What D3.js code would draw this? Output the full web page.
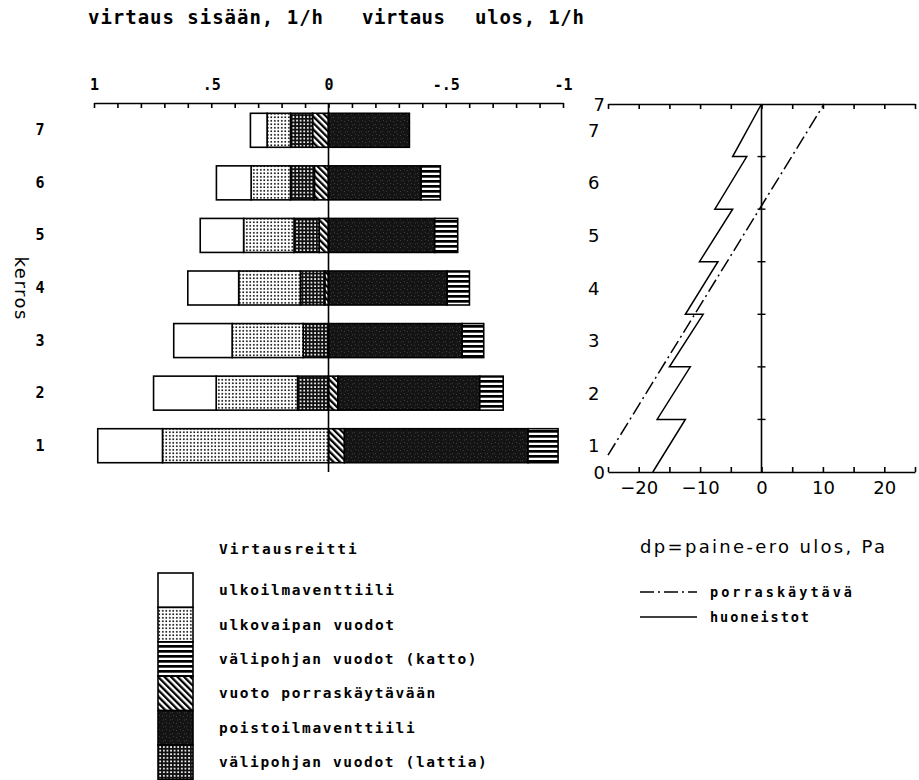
<!DOCTYPE html>
<html>
<head>
<meta charset="utf-8">
<script src="https://cdn.jsdelivr.net/npm/d3@7"></script>
<style>
  html, body { margin: 0; padding: 0; background: #fff; }
  svg { display: block; }
</style>
</head>
<body>
<svg id="chart" width="919" height="780"></svg>
<script>
// ---- Air flow per floor (1/h): positive = inflow, negative = outflow ----
const floors = [1, 2, 3, 4, 5, 6, 7];
const ulkoilmaventtiili    = [0.276, 0.267, 0.249, 0.217, 0.185, 0.148, 0.071];
const ulkovaipanVuodot     = [0.708, 0.347, 0.303, 0.263, 0.215, 0.168, 0.100];
const valipohjaLattia      = [0.000, 0.132, 0.108, 0.104, 0.107, 0.102, 0.094];
const vuotoPorraskaytavaan = [-0.068, -0.040, 0.000, 0.016, 0.040, 0.060, 0.068];
const poistoilmaventtiili  = [-0.783, -0.605, -0.570, -0.506, -0.453, -0.395, -0.345];
const valipohjaKatto       = [-0.128, -0.100, -0.092, -0.095, -0.098, -0.082, 0.000];

const flowTickValues = [1, 0.5, 0, -0.5, -1];
const flowTickLabels = ["1", ".5", "0", "-.5", "-1"];

// ---- Pressure difference outward (Pa) against height (floor levels) ----
const porrasHeight    = [0.32, 7];
const porrasDp        = [-25.0, 10.2];
const huoneistoHeight = [0, 1, 1, 2, 2, 3, 3, 4, 4, 5, 5, 6, 6, 7];
const huoneistoDp     = [-17.7, -12.4, -17.0, -11.6, -15.0, -9.5, -12.4, -7.1, -10.1, -4.7, -7.6, -2.4, -4.7, 0];
const dpTickValues    = [-20, -10, 0, 10, 20];

// ---- Legend entries ----
const legendKeys   = ["ulkoilma", "vaippa", "katto", "porras", "poisto", "lattia"];
const legendLabels = ["ulkoilmaventtiili", "ulkovaipan vuodot", "välipohjan vuodot (katto)",
                      "vuoto porraskäytävään", "poistoilmaventtiili", "välipohjan vuodot (lattia)"];

// ---------------------------------------------------------------------
const MONO = "'DejaVu Sans Mono', monospace";
const SANS = "'DejaVu Sans', sans-serif";
const svg = d3.select("#chart");

// fill patterns for each flow route
const defs = svg.append("defs");
function pattern(id, w, h) {
  return defs.append("pattern").attr("id", id)
    .attr("patternUnits", "userSpaceOnUse").attr("width", w).attr("height", h);
}
let p = pattern("pVaippa", 3.5, 3.5);
p.append("rect").attr("width", 3.5).attr("height", 3.5).attr("fill", "#fff");
p.append("rect").attr("x", 1).attr("y", 1).attr("width", 1.6).attr("height", 1.6).attr("fill", "#000");

p = pattern("pLattia", 3.6, 3.6);
p.append("rect").attr("width", 3.6).attr("height", 3.6).attr("fill", "#111");
p.append("rect").attr("x", 1).attr("y", 1).attr("width", 1.7).attr("height", 1.7).attr("fill", "#fff");

p = pattern("pPorras", 4.6, 4.6).attr("patternTransform", "rotate(-45)");
p.append("rect").attr("width", 4.6).attr("height", 4.6).attr("fill", "#fff");
p.append("rect").attr("width", 2.3).attr("height", 4.6).attr("fill", "#000");

p = pattern("pKatto", 6, 5);
p.append("rect").attr("width", 6).attr("height", 5).attr("fill", "#fff");
p.append("rect").attr("width", 6).attr("height", 2.7).attr("fill", "#000");

p = pattern("pPoisto", 7, 7);
p.append("rect").attr("width", 7).attr("height", 7).attr("fill", "#141414");
[[1, 2], [4, 5], [5, 1], [2, 5.5]].forEach(([x, y]) =>
  p.append("rect").attr("x", x).attr("y", y).attr("width", 1).attr("height", 1).attr("fill", "#3c3c3c"));

const fills = {
  ulkoilma: "#fff", vaippa: "url(#pVaippa)", lattia: "url(#pLattia)",
  porras: "url(#pPorras)", poisto: "url(#pPoisto)", katto: "url(#pKatto)"
};

function txt(g, str, x, y, o = {}) {
  const t = g.append("text").attr("x", x).attr("y", y).text(str)
    .attr("font-family", o.family || MONO)
    .attr("font-size", o.size || 13)
    .attr("font-weight", o.weight || "bold")
    .attr("text-anchor", o.anchor || "start")
    .attr("dominant-baseline", o.baseline || "auto")
    .attr("fill", "#000");
  if (o.len) t.attr("textLength", o.len).attr("lengthAdjust", "spacing");
  return t;
}

// ---- Shared vertical scale (floor levels) ----
const yS = d3.scaleLinear().domain([0, 7]).range([472, 104]);
const barH = 34;

// ================= Left: stacked flow bars =================
const xL = d3.scaleLinear().domain([1, -1]).range([94, 563]);

const table = floors.map((f, i) => ({
  floor: f,
  porras: vuotoPorraskaytavaan[i], lattia: valipohjaLattia[i],
  vaippa: ulkovaipanVuodot[i], ulkoilma: ulkoilmaventtiili[i],
  poisto: poistoilmaventtiili[i], katto: valipohjaKatto[i]
}));
const stackKeys = ["porras", "lattia", "vaippa", "ulkoilma", "poisto", "katto"];
const series = d3.stack().keys(stackKeys).offset(d3.stackOffsetDiverging)(table);

const left = svg.append("g");
series.forEach(s => {
  left.append("g").selectAll("rect")
    .data(s.filter(d => d[1] !== d[0]))
    .join("rect")
    .attr("x", d => Math.min(xL(d[0]), xL(d[1])))
    .attr("width", d => Math.abs(xL(d[1]) - xL(d[0])))
    .attr("y", d => yS(d.data.floor - 0.5) - barH / 2)
    .attr("height", barH)
    .attr("fill", fills[s.key])
    .attr("stroke", "#000").attr("stroke-width", 1.6);
});

// zero line
left.append("line")
  .attr("x1", xL(0)).attr("x2", xL(0)).attr("y1", 103).attr("y2", yS(0))
  .attr("stroke", "#000").attr("stroke-width", 1.6);

// top flow axis
const axL = left.append("g").attr("transform", "translate(0,103)")
  .call(d3.axisTop(xL)
    .tickValues(d3.range(-10, 11).map(i => i / 10))
    .tickSizeInner(-5).tickSizeOuter(0).tickPadding(13)
    .tickFormat(v => {
      const k = flowTickValues.findIndex(t => Math.abs(t - v) < 1e-9);
      return k >= 0 ? flowTickLabels[k] : "";
    }));
axL.selectAll("path, line").attr("stroke", "#000").attr("stroke-width", 1.6);
axL.selectAll("text").attr("font-family", MONO).attr("font-size", 15).attr("font-weight", "bold").attr("fill", "#000");

// floor labels
floors.forEach(f => txt(left, String(f), 40, yS(f - 0.5), { size: 15, anchor: "middle", baseline: "central" }));

// headings
txt(svg, "virtaus sisään, 1/h", 88, 24, { size: 19, len: 235 });
txt(svg, "virtaus", 362, 24, { size: 19, len: 83 });
txt(svg, "ulos, 1/h", 475, 24, { size: 19, len: 109 });
txt(svg, "kerros", 0, 0, { size: 18, weight: "normal", family: SANS, anchor: "middle", baseline: "central", len: 63 })
  .attr("transform", "translate(21,288) rotate(90)");

// ================= Right: pressure difference =================
const xR = d3.scaleLinear().domain([-25, 25]).range([608, 915]);
const right = svg.append("g");
const dpTicks = d3.range(-25, 26, 5);

const axTop = right.append("g").attr("transform", `translate(0,${yS(7)})`)
  .call(d3.axisTop(xR).tickValues(dpTicks).tickSizeInner(-5).tickSizeOuter(0).tickFormat(""));
const axBot = right.append("g").attr("transform", `translate(0,${yS(0)})`)
  .call(d3.axisBottom(xR).tickValues(dpTicks).tickSizeInner(-5).tickSizeOuter(0).tickPadding(9)
    .tickFormat(v => dpTickValues.includes(v) ? d3.format("d")(v) : ""));
[axTop, axBot].forEach(a => a.selectAll("path, line").attr("stroke", "#000").attr("stroke-width", 1.6));
axBot.selectAll("text").attr("font-family", SANS).attr("font-size", 18).attr("fill", "#000");

// zero line with floor marks
right.append("line")
  .attr("x1", xR(0)).attr("x2", xR(0)).attr("y1", yS(0)).attr("y2", yS(7))
  .attr("stroke", "#000").attr("stroke-width", 1.6);
right.selectAll("line.fm").data(d3.range(1, 7)).join("line").attr("class", "fm")
  .attr("x1", xR(0) - 4).attr("x2", xR(0) + 4)
  .attr("y1", d => yS(d)).attr("y2", d => yS(d))
  .attr("stroke", "#000").attr("stroke-width", 1.4);

// height labels
txt(right, "7", 605, yS(7), { size: 18, weight: "normal", family: SANS, anchor: "end", baseline: "central" });
txt(right, "0", 605, yS(0), { size: 18, weight: "normal", family: SANS, anchor: "end", baseline: "central" });
floors.forEach(f => txt(right, String(f), 588, yS(f - 0.5), { size: 18, weight: "normal", family: SANS, baseline: "central" }));

// profiles
const line = d3.line().x(d => xR(d[0])).y(d => yS(d[1]));
right.append("path")
  .attr("d", line(porrasDp.map((v, i) => [v, porrasHeight[i]])))
  .attr("fill", "none").attr("stroke", "#000").attr("stroke-width", 1.5)
  .attr("stroke-dasharray", "14,4,2,4");
right.append("path")
  .attr("d", line(huoneistoDp.map((v, i) => [v, huoneistoHeight[i]])))
  .attr("fill", "none").attr("stroke", "#000").attr("stroke-width", 1.5)
  .attr("stroke-linejoin", "miter");

// ================= Legends =================
const legL = svg.append("g");
txt(legL, "Virtausreitti", 219, 549, { size: 14.5, baseline: "central", len: 13 * 10.6 });
const boxH = 34.4;
legendKeys.forEach((k, i) => {
  const y0 = 573 + i * boxH;
  legL.append("rect").attr("x", 158).attr("y", y0).attr("width", 35).attr("height", boxH)
    .attr("fill", fills[k]).attr("stroke", "#000").attr("stroke-width", 1.6);
  txt(legL, legendLabels[i], 219, y0 + boxH / 2, { size: 14.5, baseline: "central", len: legendLabels[i].length * 10.3 });
});

const legR = svg.append("g");
txt(legR, "dp=paine-ero ulos, Pa", 640, 553, { size: 18, weight: "normal", family: SANS, len: 245 });
legR.append("line").attr("x1", 640).attr("x2", 697).attr("y1", 592).attr("y2", 592)
  .attr("stroke", "#000").attr("stroke-width", 1.5).attr("stroke-dasharray", "14,4,2,4");
legR.append("line").attr("x1", 640).attr("x2", 697).attr("y1", 617).attr("y2", 617)
  .attr("stroke", "#000").attr("stroke-width", 1.5);
txt(legR, "porraskäytävä", 710, 592, { size: 13.5, baseline: "central", len: 142 });
txt(legR, "huoneistot", 710, 617, { size: 13.5, baseline: "central", len: 99 });
</script>
</body>
</html>
